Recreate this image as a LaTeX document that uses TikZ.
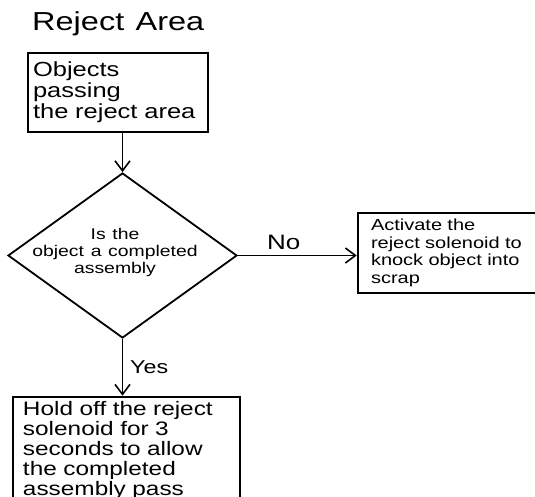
\documentclass[tikz,border=0pt]{standalone}
\usepackage{fontspec}
\setmainfont[FakeStretch=1.25,WordSpace=1.25]{Liberation Sans}
\usetikzlibrary{arrows.meta,shapes.geometric}
\begin{document}
\begin{tikzpicture}[x=1pt,y=-1pt,
  boxnode/.style={draw=black, line width=2.6pt, rectangle, inner ysep=0pt, align=left},
  conn/.style={draw=black, line width=1.8pt, -{Straight Barb[length=10pt,width=15pt,line width=1.6pt]}},
  lbl/.style={inner sep=0pt, anchor=base west}]
\useasboundingbox (0,0) rectangle (535,496);
\clip (0,0) rectangle (535,496);
\node[lbl, font=\fontsize{26}{26}\selectfont] (title) at (32,30) {Reject Area};
\node[boxnode, minimum width=180pt, minimum height=79pt, text width=170pt, inner xsep=5pt,
      font=\fontsize{20.4}{21}\selectfont] (start) at (118,92.5)
  {Objects\\passing\\the reject area};
\node[draw=black, line width=1.8pt, diamond, minimum width=229pt, minimum height=165pt, inner sep=0pt] (dec) at (122.5,255.5) {};
\node[inner sep=0pt, align=center, font=\fontsize{15.5}{17}\selectfont] (dectext) at (115,252)
  {Is the\\object a completed\\assembly};
\node[boxnode, minimum width=187pt, minimum height=80pt, text width=161pt, inner xsep=13pt,
      font=\fontsize{16}{17.7}\selectfont] (rej) at (451.5,253)
  {Activate the\\reject solenoid to\\knock object into\\scrap};
\node[boxnode, minimum width=227pt, minimum height=105.9pt, text width=207pt, inner xsep=10pt,
      font=\fontsize{19.5}{20}\selectfont] (hold) at (126.5,449.95)
  {Hold off the reject\\solenoid for 3\\seconds to allow\\the completed\\assembly pass};
\draw[conn] (dec.north |- start.south) -- (dec.north);
\draw[conn] (dec.east) -- (dec.east -| rej.west);
\draw[conn] (dec.south) -- (dec.south |- hold.north);
\node[lbl, font=\fontsize{20.8}{21}\selectfont] (no) at (267,249) {No};
\node[lbl, font=\fontsize{18.6}{19}\selectfont] (yes) at (130,373) {Yes};
\end{tikzpicture}
\end{document}
